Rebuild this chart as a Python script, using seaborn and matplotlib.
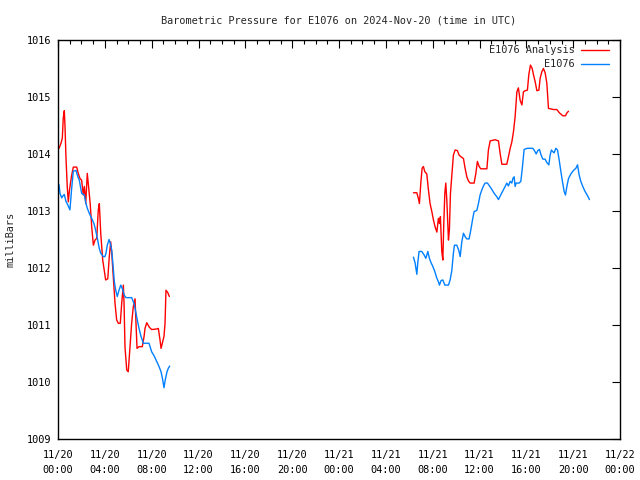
"""
plot.py - Barometric pressure for E1076, analysis vs. station (seaborn line chart).
"""

import pandas as pd
import seaborn as sns
import matplotlib.pyplot as plt
import matplotlib.dates as mdates

#####################################
# Data (hours after 2024-11-20 00:00 UTC, pressure in mb)
#####################################

START = "2024-11-20 00:00"

analysis_hours_1 = [
    0.09, 0.26, 0.37, 0.45, 0.54, 0.60, 0.68, 0.79, 0.88, 0.97, 1.08, 1.17, 1.31, 1.60,
    1.73, 1.88, 2.02, 2.16, 2.25, 2.37, 2.50, 2.65, 2.76, 2.88, 3.02, 3.16, 3.31, 3.44,
    3.53, 3.65, 3.82, 3.95, 4.07, 4.25, 4.38, 4.50, 4.59, 4.72, 4.87, 5.01, 5.15, 5.32,
    5.44, 5.58, 5.64, 5.72, 5.87, 6.00, 6.15, 6.29, 6.43, 6.58, 6.66, 6.75, 6.92, 7.20,
    7.35, 7.43, 7.58, 7.80, 8.00, 8.43, 8.57, 8.71, 8.80, 8.91, 9.05, 9.14, 9.22, 9.37,
    9.51,
]
analysis_mb_1 = [
    1014.10, 1014.19, 1014.28, 1014.63, 1014.76, 1014.48, 1013.95, 1013.43, 1013.16,
    1013.35, 1013.51, 1013.63, 1013.77, 1013.77, 1013.66, 1013.57, 1013.54, 1013.28,
    1013.43, 1013.13, 1013.66, 1013.35, 1013.10, 1012.72, 1012.40, 1012.49, 1012.52,
    1013.02, 1013.13, 1012.61, 1012.14, 1011.96, 1011.79, 1011.81, 1012.20, 1012.46,
    1012.26, 1011.85, 1011.38, 1011.09, 1011.03, 1011.03, 1011.38, 1011.70, 1011.38,
    1010.62, 1010.21, 1010.18, 1010.62, 1011.03, 1011.32, 1011.46, 1011.03, 1010.59,
    1010.62, 1010.62, 1010.80, 1010.94, 1011.04, 1010.96, 1010.92, 1010.93, 1010.94,
    1010.74, 1010.59, 1010.68, 1010.80, 1011.03, 1011.61, 1011.57, 1011.50,
]

analysis_hours_2 = [
    30.35, 30.64, 30.77, 30.86, 30.98, 31.09, 31.20, 31.32, 31.49, 31.63, 31.77, 31.92,
    32.06, 32.20, 32.35, 32.48, 32.57, 32.65, 32.77, 32.86, 32.94, 33.03, 33.11, 33.20,
    33.34, 33.42, 33.51, 33.63, 33.76, 33.91, 34.10, 34.25, 34.42, 34.62, 34.76, 34.91,
    35.04, 35.19, 35.53, 35.68, 35.81, 35.96, 36.10, 36.62, 36.75, 36.90, 37.32, 37.61,
    37.75, 37.90, 38.32, 38.46, 38.61, 38.75, 38.89, 39.03, 39.18, 39.31, 39.46, 39.61,
    39.74, 39.89, 40.08, 40.20, 40.34, 40.49, 40.60, 40.74, 40.89, 41.06, 41.17, 41.31,
    41.45, 41.60, 41.74, 41.88, 42.30, 42.59, 42.82, 43.11, 43.33, 43.45, 43.59,
]
analysis_mb_2 = [
    1013.32, 1013.32, 1013.22, 1013.13, 1013.49, 1013.75, 1013.78, 1013.69, 1013.65,
    1013.37, 1013.13, 1012.99, 1012.84, 1012.72, 1012.63, 1012.87, 1012.78, 1012.90,
    1012.29, 1012.14, 1012.78, 1013.31, 1013.49, 1013.19, 1012.49, 1012.67, 1013.31,
    1013.63, 1013.98, 1014.07, 1014.06, 1013.98, 1013.95, 1013.92, 1013.75, 1013.60,
    1013.53, 1013.49, 1013.49, 1013.66, 1013.87, 1013.78, 1013.74, 1013.74, 1014.07,
    1014.23, 1014.25, 1014.23, 1014.01, 1013.82, 1013.82, 1013.95, 1014.10, 1014.21,
    1014.39, 1014.65, 1015.09, 1015.16, 1014.94, 1014.86, 1015.09, 1015.11, 1015.12,
    1015.39, 1015.56, 1015.50, 1015.39, 1015.27, 1015.11, 1015.12, 1015.33, 1015.44,
    1015.50, 1015.42, 1015.24, 1014.80, 1014.78, 1014.78, 1014.72, 1014.67, 1014.67,
    1014.72, 1014.75,
]

station_hours_1 = [
    0.09, 0.17, 0.32, 0.40, 0.54, 0.68, 0.83, 1.02, 1.17, 1.31, 1.54, 1.68, 1.82, 2.02,
    2.25, 2.39, 2.50, 2.67, 2.88, 3.07, 3.22, 3.39, 3.53, 3.65, 3.87, 4.01, 4.10, 4.21,
    4.36, 4.47, 4.59, 4.70, 4.81, 4.93, 5.06, 5.21, 5.36, 5.53, 5.66, 5.81, 6.29, 6.49,
    6.64, 6.77, 6.92, 7.09, 7.29, 7.77, 8.00, 8.23, 8.43, 8.63, 8.80, 8.94, 9.05, 9.16,
    9.31, 9.42, 9.54,
]
station_mb_1 = [
    1013.46, 1013.31, 1013.23, 1013.26, 1013.29, 1013.17, 1013.11, 1013.02, 1013.40,
    1013.70, 1013.71, 1013.61, 1013.54, 1013.31, 1013.28, 1013.13, 1013.05, 1012.96,
    1012.87, 1012.78, 1012.66, 1012.49, 1012.34, 1012.26, 1012.20, 1012.20, 1012.26,
    1012.40, 1012.50, 1012.43, 1012.31, 1012.05, 1011.76, 1011.61, 1011.50, 1011.61,
    1011.70, 1011.62, 1011.52, 1011.48, 1011.48, 1011.38, 1011.23, 1011.09, 1010.94,
    1010.80, 1010.68, 1010.68, 1010.53, 1010.45, 1010.36, 1010.27, 1010.18, 1010.04,
    1009.90, 1010.04, 1010.18, 1010.24, 1010.28,
]

station_hours_2 = [
    30.35, 30.49, 30.64, 30.72, 30.83, 31.06, 31.26, 31.41, 31.58, 31.71, 31.86, 32.00,
    32.17, 32.35, 32.48, 32.57, 32.71, 32.86, 33.03, 33.34, 33.48, 33.63, 33.76, 33.85,
    34.05, 34.22, 34.34, 34.48, 34.62, 34.76, 34.91, 35.10, 35.25, 35.39, 35.53, 35.76,
    35.90, 36.04, 36.19, 36.33, 36.47, 36.67, 36.84, 37.04, 37.24, 37.47, 37.61, 37.75,
    37.95, 38.18, 38.32, 38.46, 38.61, 38.75, 38.84, 38.95, 39.03, 39.12, 39.23, 39.37,
    39.52, 39.66, 39.80, 40.08, 40.54, 40.68, 40.83, 40.97, 41.11, 41.25, 41.40, 41.59,
    41.74, 41.91, 42.02, 42.13, 42.25, 42.36, 42.51, 42.65, 42.79, 42.94, 43.07, 43.22,
    43.33, 43.45, 43.59, 43.79, 44.01, 44.22, 44.36, 44.50, 44.64, 44.81, 45.01, 45.21,
    45.38,
]
station_mb_2 = [
    1012.19, 1012.09, 1011.89, 1012.09, 1012.29, 1012.29, 1012.23, 1012.17, 1012.29,
    1012.17, 1012.09, 1012.03, 1011.94, 1011.82, 1011.76, 1011.70, 1011.78, 1011.79,
    1011.70, 1011.70, 1011.79, 1011.96, 1012.26, 1012.40, 1012.40, 1012.31, 1012.20,
    1012.46, 1012.61, 1012.55, 1012.51, 1012.51, 1012.67, 1012.84, 1012.99, 1013.01,
    1013.13, 1013.28, 1013.37, 1013.44, 1013.49, 1013.49, 1013.44, 1013.38, 1013.31,
    1013.25, 1013.20, 1013.26, 1013.34, 1013.43, 1013.49, 1013.44, 1013.52, 1013.49,
    1013.57, 1013.60, 1013.43, 1013.49, 1013.49, 1013.49, 1013.52, 1013.78, 1014.08,
    1014.10, 1014.10, 1014.06, 1014.00, 1014.06, 1014.08, 1013.98, 1013.91, 1013.91,
    1013.85, 1013.81, 1013.98, 1014.07, 1014.04, 1014.02, 1014.10, 1014.07, 1013.90,
    1013.69, 1013.52, 1013.34, 1013.28, 1013.43, 1013.57, 1013.65, 1013.71, 1013.75,
    1013.81, 1013.63, 1013.52, 1013.43, 1013.34, 1013.27, 1013.20,
]

series_names = ["E1076 Analysis", "E1076"]
series_colors = ["#ff0000", "#0080ff"]


def build_frame() -> pd.DataFrame:
    """Stack the segments into one long table with a segment id per gap."""
    parts = [
        (series_names[0], "a1", analysis_hours_1, analysis_mb_1),
        (series_names[0], "a2", analysis_hours_2, analysis_mb_2),
        (series_names[1], "s1", station_hours_1, station_mb_1),
        (series_names[1], "s2", station_hours_2, station_mb_2),
    ]
    frames = []
    for name, seg, hours, mb in parts:
        frames.append(pd.DataFrame({
            "time": pd.Timestamp(START) + pd.to_timedelta(hours, unit="h"),
            "pressure": mb,
            "series": name,
            "segment": seg,
        }))
    return pd.concat(frames, ignore_index=True)


def main() -> None:
    sns.set_style("white")
    plt.rcParams["font.family"] = ["DejaVu Sans Mono"]
    plt.rcParams["font.size"] = 7.4

    data = build_frame()

    fig, ax = plt.subplots(figsize=(6.4, 4.8), dpi=100)
    fig.subplots_adjust(left=0.0906, right=0.969, top=0.9167, bottom=0.0854)

    sns.lineplot(
        data=data, x="time", y="pressure", hue="series", units="segment",
        estimator=None, hue_order=series_names, palette=series_colors,
        linewidth=1.0, ax=ax,
    )

    ax.set_xlim(pd.Timestamp("2024-11-20"), pd.Timestamp("2024-11-22"))
    ax.set_ylim(1009, 1016)
    ax.set_yticks(range(1009, 1017))
    ax.xaxis.set_major_locator(mdates.HourLocator(byhour=range(0, 24, 4)))
    ax.xaxis.set_minor_locator(mdates.HourLocator())
    ax.xaxis.set_major_formatter(mdates.DateFormatter("%m/%d\n%H:%M"))

    ax.tick_params(which="both", direction="in", top=True, right=True, colors="black",
                   labelsize=7.4)
    ax.tick_params(which="major", length=6, width=0.8)
    ax.tick_params(which="minor", length=3, width=0.8)
    ax.tick_params(axis="x", which="major", pad=8)
    ax.tick_params(axis="y", which="major", pad=5)
    for label in ax.get_xticklabels():
        label.set_linespacing(1.55)
    for spine in ax.spines.values():
        spine.set_color("black")
        spine.set_linewidth(1.0)

    ax.set_title("Barometric Pressure for E1076 on 2024-Nov-20 (time in UTC)",
                 fontsize=7.4, pad=12)
    ax.set_xlabel("")
    ax.set_ylabel("milliBars", fontsize=7.4, labelpad=8)

    # gnuplot-style key: text right-aligned, sample line to its right
    ax.legend(loc="upper right", bbox_to_anchor=(0.987, 0.997), frameon=False,
              markerfirst=False, fontsize=7.4, handlelength=2.7, borderaxespad=0.0,
              labelspacing=0.4, handletextpad=0.6)

    fig.savefig("out.png", dpi=100)


if __name__ == "__main__":
    main()
